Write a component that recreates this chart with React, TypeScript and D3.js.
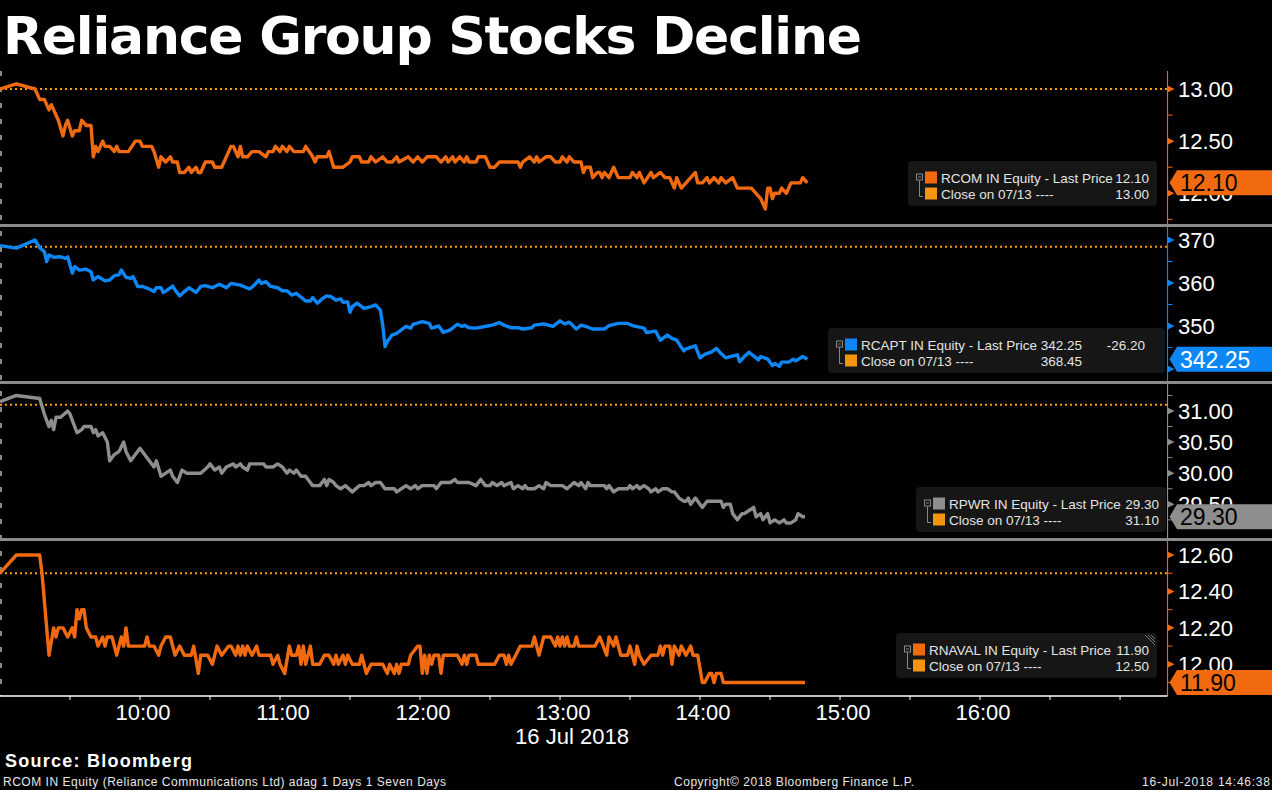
import React from "react";
import * as d3 from "d3";

// [minutes after 09:00, price]
const rcomPts: [number, number][] = [
  [0, 13.0], [7, 13.05], [15, 13.0], [17, 12.9], [19, 12.9], [21, 12.8], [22, 12.85], [23, 12.8],
  [25, 12.7], [27, 12.55], [28, 12.65], [29, 12.7], [31, 12.55], [32, 12.6], [34, 12.6], [35, 12.7],
  [37, 12.65], [39, 12.65], [40, 12.35], [41, 12.45], [42, 12.4], [44, 12.5], [45, 12.45], [47, 12.45],
  [49, 12.4], [50, 12.45], [51, 12.4], [55, 12.4], [58, 12.5], [60, 12.5], [61, 12.45], [65, 12.45],
  [66, 12.4], [68, 12.25], [69, 12.35], [71, 12.3], [73, 12.35], [74, 12.3], [76, 12.3], [77, 12.2],
  [79, 12.2], [81, 12.25], [82, 12.2], [84, 12.25], [85, 12.2], [86, 12.2], [88, 12.3], [91, 12.3],
  [92, 12.25], [95, 12.25], [97, 12.35], [99, 12.45], [100, 12.45], [102, 12.35], [103, 12.45], [104, 12.35],
  [106, 12.35], [108, 12.4], [111, 12.4], [114, 12.35], [115, 12.4], [117, 12.4], [118, 12.45], [120, 12.4],
  [121, 12.45], [123, 12.4], [124, 12.45], [126, 12.4], [130, 12.4], [131, 12.45], [134, 12.35], [135, 12.3],
  [136, 12.35], [140, 12.35], [141, 12.4], [143, 12.25], [145, 12.25], [147, 12.25], [150, 12.3], [151, 12.35],
  [154, 12.35], [155, 12.3], [158, 12.3], [159, 12.35], [161, 12.3], [164, 12.35], [166, 12.3], [168, 12.3],
  [170, 12.35], [171, 12.3], [175, 12.35], [177, 12.3], [179, 12.35], [181, 12.3], [183, 12.35], [187, 12.35],
  [189, 12.3], [191, 12.35], [192, 12.3], [194, 12.35], [195, 12.3], [197, 12.35], [199, 12.3], [200, 12.35],
  [201, 12.3], [204, 12.3], [205, 12.35], [208, 12.35], [210, 12.25], [212, 12.25], [214, 12.3], [222, 12.3],
  [223, 12.25], [224, 12.3], [227, 12.35], [229, 12.3], [230, 12.35], [231, 12.3], [234, 12.35], [236, 12.35],
  [238, 12.3], [240, 12.3], [241, 12.35], [243, 12.3], [244, 12.35], [246, 12.3], [249, 12.3], [250, 12.2],
  [251, 12.25], [253, 12.25], [254, 12.15], [256, 12.2], [257, 12.2], [258, 12.15], [259, 12.2], [261, 12.15],
  [263, 12.25], [265, 12.15], [270, 12.15], [271, 12.2], [273, 12.15], [274, 12.2], [276, 12.1], [279, 12.2],
  [280, 12.15], [283, 12.2], [285, 12.15], [287, 12.15], [289, 12.05], [290, 12.15], [292, 12.05], [294, 12.1],
  [296, 12.15], [298, 12.2], [299, 12.1], [301, 12.1], [303, 12.15], [304, 12.1], [306, 12.15], [308, 12.1],
  [309, 12.15], [311, 12.1], [314, 12.15], [316, 12.05], [322, 12.05], [324, 12.0], [326, 11.95], [328, 11.85],
  [329, 12.05], [330, 12.05], [331, 11.95], [332, 12.0], [334, 12.0], [335, 12.05], [337, 12.0], [339, 12.1],
  [343, 12.1], [344, 12.15], [346, 12.1],
];

const rcaptPts: [number, number][] = [
  [0, 368.7], [7, 368.1], [15, 370.0], [17, 368.2], [19, 367.3], [20, 365.0], [21, 366.5], [23, 366.0],
  [26, 366.1], [28, 365.7], [29, 366.1], [31, 362.3], [32, 363.8], [34, 363.0], [37, 363.2], [39, 362.6],
  [40, 360.7], [42, 361.5], [45, 360.5], [47, 360.7], [49, 361.7], [51, 361.9], [52, 363.0], [54, 361.3],
  [56, 361.1], [57, 361.5], [59, 359.2], [61, 359.2], [64, 358.6], [66, 358.0], [67, 358.9], [69, 358.9],
  [70, 357.8], [71, 358.1], [74, 359.3], [75, 358.4], [77, 357.0], [79, 358.0], [81, 358.9], [84, 357.8],
  [86, 359.2], [88, 359.4], [91, 358.9], [94, 359.7], [97, 358.9], [99, 359.9], [103, 359.5], [107, 358.6],
  [109, 359.5], [111, 360.7], [112, 359.9], [114, 360.3], [116, 359.2], [119, 358.9], [121, 358.2], [123, 358.2],
  [125, 357.2], [127, 357.6], [131, 355.8], [133, 355.8], [134, 356.6], [136, 355.3], [138, 356.3], [140, 357.0],
  [142, 356.8], [144, 356.0], [146, 356.3], [147, 355.5], [149, 355.6], [150, 353.2], [151, 354.5], [153, 355.3],
  [156, 354.1], [159, 354.5], [161, 354.9], [163, 353.7], [164, 350.3], [165, 345.2], [166, 346.4], [168, 347.9],
  [170, 348.3], [171, 348.7], [174, 349.9], [176, 349.5], [177, 350.4], [181, 351.0], [184, 350.6], [185, 349.5],
  [188, 350.0], [190, 348.5], [193, 349.1], [196, 350.4], [198, 349.9], [199, 350.2], [201, 349.6], [204, 349.5],
  [209, 350.0], [211, 350.2], [214, 350.8], [216, 350.2], [219, 349.6], [222, 349.6], [224, 349.3], [228, 349.6],
  [229, 350.2], [233, 350.5], [237, 349.9], [240, 351.2], [242, 350.5], [244, 350.9], [247, 349.3], [249, 350.2],
  [251, 349.9], [254, 349.3], [259, 349.3], [261, 350.1], [265, 350.6], [269, 350.6], [271, 350.1], [276, 349.5],
  [277, 348.5], [281, 348.8], [283, 346.7], [286, 347.9], [288, 347.1], [290, 346.7], [293, 344.2], [294, 344.7],
  [298, 345.4], [300, 342.6], [302, 343.4], [305, 344.0], [307, 344.8], [309, 343.6], [311, 342.6], [313, 342.9],
  [316, 343.3], [317, 341.7], [319, 342.9], [321, 343.9], [324, 342.6], [325, 342.1], [326, 342.9], [329, 342.3],
  [331, 340.8], [332, 341.3], [334, 340.6], [335, 341.6], [338, 341.6], [340, 342.3], [341, 341.9], [344, 342.9],
  [346, 342.25],
];

const rpwrPts: [number, number][] = [
  [0, 31.15], [7, 31.25], [17, 31.2], [19, 30.95], [21, 30.75], [22, 30.85], [23, 30.7], [24, 30.9],
  [26, 30.9], [29, 31.0], [30, 30.95], [33, 30.65], [35, 30.7], [36, 30.75], [39, 30.75], [40, 30.65],
  [41, 30.7], [42, 30.6], [44, 30.65], [46, 30.5], [47, 30.2], [49, 30.3], [51, 30.35], [53, 30.5],
  [54, 30.35], [56, 30.2], [58, 30.3], [60, 30.4], [61, 30.35], [63, 30.25], [66, 30.1], [67, 30.2],
  [69, 29.95], [71, 30.0], [73, 30.05], [74, 29.95], [76, 29.85], [78, 30.05], [80, 30.0], [86, 30.0],
  [89, 30.1], [90, 30.15], [92, 30.05], [94, 30.1], [95, 30.0], [97, 30.1], [100, 30.15], [101, 30.1],
  [103, 30.15], [104, 30.1], [106, 30.05], [107, 30.15], [113, 30.15], [114, 30.1], [117, 30.1], [119, 30.15],
  [121, 30.1], [123, 30.0], [124, 30.05], [126, 30.0], [127, 30.05], [129, 29.95], [131, 29.95], [132, 29.9],
  [134, 29.8], [137, 29.8], [139, 29.9], [140, 29.8], [141, 29.9], [143, 29.85], [144, 29.8], [146, 29.75],
  [148, 29.8], [151, 29.7], [154, 29.8], [156, 29.8], [158, 29.85], [159, 29.8], [161, 29.85], [163, 29.85],
  [165, 29.75], [169, 29.75], [170, 29.7], [172, 29.75], [174, 29.8], [176, 29.75], [178, 29.8], [179, 29.75],
  [181, 29.8], [186, 29.8], [187, 29.75], [189, 29.85], [193, 29.85], [195, 29.9], [196, 29.85], [199, 29.85],
  [201, 29.85], [204, 29.8], [206, 29.9], [208, 29.8], [210, 29.8], [211, 29.85], [213, 29.8], [215, 29.85],
  [216, 29.8], [219, 29.85], [220, 29.75], [222, 29.8], [224, 29.75], [225, 29.8], [226, 29.75], [229, 29.75],
  [231, 29.8], [233, 29.75], [234, 29.85], [236, 29.8], [241, 29.8], [243, 29.75], [246, 29.85], [248, 29.8],
  [249, 29.85], [251, 29.75], [252, 29.85], [253, 29.8], [259, 29.8], [260, 29.75], [261, 29.8], [263, 29.7],
  [265, 29.75], [269, 29.75], [270, 29.8], [271, 29.75], [273, 29.8], [274, 29.75], [276, 29.8], [278, 29.75],
  [279, 29.7], [281, 29.75], [282, 29.7], [284, 29.75], [286, 29.75], [288, 29.7], [289, 29.7], [291, 29.6],
  [293, 29.55], [294, 29.55], [295, 29.6], [296, 29.5], [298, 29.6], [301, 29.45], [303, 29.55], [309, 29.55],
  [310, 29.45], [311, 29.5], [313, 29.5], [314, 29.35], [316, 29.25], [318, 29.35], [319, 29.35], [321, 29.4],
  [323, 29.45], [324, 29.3], [326, 29.35], [327, 29.25], [329, 29.35], [330, 29.2], [332, 29.25], [334, 29.2],
  [336, 29.25], [337, 29.2], [339, 29.2], [341, 29.25], [342, 29.35], [344, 29.3], [345, 29.3],
];

const rnavalPts: [number, number][] = [
  [0, 12.5], [7, 12.6], [17, 12.6], [18, 12.5], [21, 12.05], [23, 12.2], [24, 12.15], [25, 12.2],
  [27, 12.2], [29, 12.15], [31, 12.2], [32, 12.15], [33, 12.3], [34, 12.25], [35, 12.3], [36, 12.3],
  [37, 12.2], [39, 12.15], [41, 12.15], [42, 12.1], [44, 12.15], [45, 12.1], [46, 12.15], [48, 12.15],
  [50, 12.05], [52, 12.15], [53, 12.1], [54, 12.2], [55, 12.1], [62, 12.1], [63, 12.15], [64, 12.1],
  [66, 12.1], [68, 12.05], [69, 12.1], [71, 12.15], [73, 12.15], [75, 12.05], [77, 12.1], [79, 12.05],
  [82, 12.05], [83, 12.1], [85, 11.95], [86, 12.05], [89, 12.05], [91, 12.0], [93, 12.1], [95, 12.05],
  [98, 12.1], [99, 12.1], [101, 12.05], [102, 12.1], [103, 12.05], [104, 12.1], [105, 12.05], [106, 12.1],
  [108, 12.05], [110, 12.1], [111, 12.05], [114, 12.05], [116, 12.05], [117, 12.0], [119, 12.05], [120, 12.0],
  [122, 11.95], [124, 12.1], [125, 12.05], [127, 12.05], [128, 12.1], [129, 12.0], [130, 12.1], [131, 12.0],
  [133, 12.1], [134, 12.0], [137, 12.0], [139, 12.05], [141, 12.05], [143, 12.0], [144, 12.05], [145, 12.0],
  [147, 12.05], [148, 12.0], [149, 12.05], [151, 12.0], [154, 12.0], [155, 12.05], [157, 11.95], [159, 12.0],
  [164, 12.0], [166, 11.95], [167, 12.0], [169, 11.95], [170, 12.0], [171, 11.95], [172, 12.0], [175, 12.0],
  [176, 12.05], [179, 12.1], [180, 12.1], [181, 11.95], [182, 12.05], [183, 11.95], [184, 12.05], [185, 12.0],
  [186, 12.05], [188, 12.05], [189, 11.95], [190, 12.05], [196, 12.05], [198, 12.0], [199, 12.05], [200, 12.0],
  [201, 12.05], [204, 12.05], [205, 12.0], [212, 12.0], [214, 12.05], [216, 12.05], [217, 12.0], [218, 12.05],
  [219, 12.0], [221, 12.05], [223, 12.1], [224, 12.1], [226, 12.1], [228, 12.1], [229, 12.15], [231, 12.05],
  [233, 12.15], [236, 12.15], [238, 12.1], [239, 12.15], [240, 12.1], [241, 12.15], [242, 12.1], [243, 12.15],
  [244, 12.1], [246, 12.1], [247, 12.15], [248, 12.1], [251, 12.1], [255, 12.1], [257, 12.15], [260, 12.05],
  [261, 12.15], [263, 12.1], [264, 12.15], [266, 12.05], [269, 12.05], [270, 12.1], [272, 12.0], [273, 12.1],
  [274, 12.05], [276, 12.0], [279, 12.05], [282, 12.05], [283, 12.1], [284, 12.05], [285, 12.1], [287, 12.1],
  [288, 12.0], [289, 12.1], [291, 12.05], [292, 12.1], [294, 12.05], [296, 12.1], [297, 12.05], [299, 12.05],
  [301, 11.9], [302, 11.9], [304, 11.95], [305, 11.95], [306, 11.9], [307, 11.95], [309, 11.95], [310, 11.9],
  [312, 11.9], [345, 11.9],
];

const closeValues = [13.0, 368.45, 31.1, 12.5];
const lastValues = [12.1, 342.25, 29.3, 11.9];
const changeValues = [null, -26.2, null, null];
const tickers = ["RCOM", "RCAPT", "RPWR", "RNAVAL"];

const rcomMajor = [12.0, 12.5, 13.0];
const rcomMinor = [11.75, 12.25, 12.75];
const rcaptMajor = [340, 350, 360, 370];
const rcaptMinor = [345, 355, 365];
const rpwrMajor = [29.5, 30.0, 30.5, 31.0];
const rpwrMinor = [29.25, 29.75, 30.25, 30.75, 31.25];
const rnavalMajor = [12.0, 12.2, 12.4, 12.6];
const rnavalMinor = [11.9, 12.1, 12.3, 12.5];
// labels the price tag hides completely in the original
const hiddenLabels = [[], [340], [], []] as number[][];

const hourLabels = ["10:00", "11:00", "12:00", "13:00", "14:00", "15:00", "16:00"];
const hourMinutes = [60, 120, 180, 240, 300, 360, 420];
const halfHourTicks = d3.range(30, 481, 30);

const W = 1272;
const H = 790;
const AXIS_X = 1167.5;
const FONT = "'Liberation Sans', Arial, sans-serif";

const ORANGE = "#f26a10";
const BLUE = "#0e87f6";
const GRAY = "#8e8e8e";
const CLOSE_COL = "#f3950f";

const x = d3.scaleLinear().domain([0, 500]).range([0, 1166.7]);
const fix2 = (v: number) => v.toFixed(2);

const panels = [
  {
    data: rcomPts, color: ORANGE, top: 71, bottom: 224,
    y: d3.scaleLinear().domain([12.0, 13.0]).range([193.3, 89]),
    major: rcomMajor, minor: rcomMinor, fmt: fix2, tagText: "#000",
    legend: { x: 908, y: 161, w: 249, valRight: 241, extraRight: 0 },
  },
  {
    data: rcaptPts, color: BLUE, top: 227, bottom: 381,
    y: d3.scaleLinear().domain([340, 370]).range([369, 240]),
    major: rcaptMajor, minor: rcaptMinor, fmt: (v: number) => v.toFixed(0), tagText: "#fff",
    legend: { x: 828, y: 328, w: 337, valRight: 254, extraRight: 317 },
  },
  {
    data: rpwrPts, color: GRAY, top: 384, bottom: 538,
    y: d3.scaleLinear().domain([29.5, 31.0]).range([504.3, 411]),
    major: rpwrMajor, minor: rpwrMinor, fmt: fix2, tagText: "#000",
    legend: { x: 916, y: 487, w: 250, valRight: 243, extraRight: 0 },
  },
  {
    data: rnavalPts, color: ORANGE, top: 541, bottom: 696,
    y: d3.scaleLinear().domain([12.0, 12.6]).range([664.3, 555]),
    major: rnavalMajor, minor: rnavalMinor, fmt: fix2, tagText: "#000",
    legend: { x: 896, y: 633, w: 261, valRight: 253, extraRight: 0 },
  },
];

function Legend({ i }: { i: number }) {
  const p = panels[i];
  const L = p.legend;
  const r1 = L.y + 16.5;
  const r2 = L.y + 32.5;
  return (
    <g fontFamily={FONT} fontSize={13.5} fill="#e4e4e4">
      <rect x={L.x} y={L.y} width={L.w} height={45} rx={4} fill="#161616" />
      <rect x={L.x + 8.5} y={r1 - 3.5} width={6} height={6} fill="none" stroke="#888" strokeWidth={1} />
      <line x1={L.x + 10} x2={L.x + 13} y1={r1 - 0.5} y2={r1 - 0.5} stroke="#888" strokeWidth={1} />
      <path d={`M${L.x + 11.5},${r1 + 3}V${r2 + 3}H${L.x + 15}`} fill="none" stroke="#888" strokeWidth={1} />
      <rect x={L.x + 17} y={r1 - 6} width={12} height={12} fill={p.color} />
      <rect x={L.x + 17} y={r2 - 6} width={12} height={12} fill={CLOSE_COL} />
      <text x={L.x + 33} y={r1 + 5}>{`${tickers[i]} IN Equity - Last Price`}</text>
      <text x={L.x + L.valRight} y={r1 + 5} textAnchor="end">{fix2(lastValues[i])}</text>
      {changeValues[i] !== null && (
        <text x={L.x + L.extraRight} y={r1 + 5} textAnchor="end">{fix2(changeValues[i] as number)}</text>
      )}
      <text x={L.x + 33} y={r2 + 5}>Close on 07/13 ----</text>
      <text x={L.x + L.valRight} y={r2 + 5} textAnchor="end">{fix2(closeValues[i])}</text>
      {i === 3 && (
        <g stroke="#777" strokeWidth={1}>
          <line x1={L.x + L.w - 9} y1={L.y + 2} x2={L.x + L.w - 2} y2={L.y + 9} />
          <line x1={L.x + L.w - 6} y1={L.y + 2} x2={L.x + L.w - 2} y2={L.y + 6} />
          <line x1={L.x + L.w - 12} y1={L.y + 2} x2={L.x + L.w - 2} y2={L.y + 12} />
        </g>
      )}
    </g>
  );
}

function Panel({ i }: { i: number }) {
  const p = panels[i];
  const line = d3
    .line<[number, number]>()
    .x((d) => x(d[0]))
    .y((d) => p.y(d[1]));
  const cy = p.y(lastValues[i]);
  const clipId = `clip-${i}`;
  return (
    <g>
      <defs>
        <clipPath id={clipId}>
          <rect x={0} y={p.top} width={AXIS_X} height={p.bottom - p.top} />
        </clipPath>
        <clipPath id={`${clipId}-r`}>
          <rect x={AXIS_X - 1} y={p.top} width={W - AXIS_X + 1} height={p.bottom - p.top} />
        </clipPath>
      </defs>
      <g clipPath={`url(#${clipId})`}>
        <line
          x1={0} x2={AXIS_X} y1={p.y(closeValues[i])} y2={p.y(closeValues[i])}
          stroke="#ff9a00" strokeWidth={2} strokeDasharray="2,3"
        />
        <path d={line(p.data) || ""} fill="none" stroke={p.color} strokeWidth={3.4} strokeLinejoin="round" />
      </g>
      <Legend i={i} />
      <g clipPath={`url(#${clipId}-r)`}>
        <line x1={AXIS_X} x2={AXIS_X} y1={p.top} y2={p.bottom} stroke={p.color} strokeWidth={1.2} />
        {p.minor.map((v) => (
          <line key={`m${v}`} x1={AXIS_X} x2={AXIS_X + 5} y1={p.y(v)} y2={p.y(v)} stroke={p.color} strokeWidth={1} />
        ))}
        {p.major.map((v) => (
          <g key={`M${v}`}>
            <path d={`M${AXIS_X},${p.y(v) - 3.5}L${AXIS_X + 7},${p.y(v)}L${AXIS_X},${p.y(v) + 3.5}Z`} fill={p.color} />
            {!hiddenLabels[i].includes(v) && (
              <text x={1178} y={p.y(v) + 8} fontFamily={FONT} fontSize={22} fill="#fff">{p.fmt(v)}</text>
            )}
          </g>
        ))}
        <path
          d={`M${AXIS_X + 2},${cy}L${1177},${cy - 12.5}H${W}V${cy + 12.5}H${1177}Z`}
          fill={p.color}
        />
        <text x={1180} y={cy + 8.5} fontFamily={FONT} fontSize={23} fill={p.tagText}>{fix2(lastValues[i])}</text>
      </g>
    </g>
  );
}

export default function App() {
  return (
    <svg
      width={W}
      height={H}
      viewBox={`0 0 ${W} ${H}`}
      style={{ position: "absolute", left: 0, top: 0, display: "block" }}
    >
      <rect x={0} y={0} width={W} height={H} fill="#000" />
      <text
        x={3} y={54} fontFamily="'DejaVu Sans', Verdana, sans-serif" fontWeight="bold"
        fontSize={52} fill="#fff" textLength={859}
      >
        Reliance Group Stocks Decline
      </text>

      {/* dashed line at session start */}
      <line x1={1} x2={1} y1={71} y2={696} stroke="#888" strokeWidth={2} strokeDasharray="5,11" />

      {panels.map((_, i) => (
        <Panel key={i} i={i} />
      ))}

      {/* panel separators */}
      {[224, 381, 538].map((yy) => (
        <rect key={yy} x={0} y={yy} width={W} height={3} fill="#8a8a8a" />
      ))}

      {/* time axis */}
      <line x1={0} x2={AXIS_X} y1={696} y2={696} stroke="#fff" strokeWidth={1.5} />
      {halfHourTicks.map((m) => (
        <line key={m} x1={x(m)} x2={x(m)} y1={696} y2={700} stroke="#fff" strokeWidth={1} />
      ))}
      {hourLabels.map((lab, k) => (
        <text
          key={lab} x={x(hourMinutes[k]) + 3} y={720} textAnchor="middle"
          fontFamily={FONT} fontSize={22} fill="#fff"
        >
          {lab}
        </text>
      ))}
      <text x={572} y={744} textAnchor="middle" fontFamily={FONT} fontSize={22} fill="#fff">16 Jul 2018</text>

      <text x={5} y={767} fontFamily={FONT} fontWeight="bold" fontSize={18} fill="#fff" textLength={187}>
        Source: Bloomberg
      </text>
      <g fontFamily={FONT} fontSize={12} fill="#e6e6e6">
        <text x={3} y={786} textLength={443}>RCOM IN Equity (Reliance Communications Ltd) adag 1 Days 1 Seven Days</text>
        <text x={674} y={786} textLength={240}>Copyright© 2018 Bloomberg Finance L.P.</text>
        <text x={1142} y={786} textLength={128}>16-Jul-2018 14:46:38</text>
      </g>
    </svg>
  );
}
